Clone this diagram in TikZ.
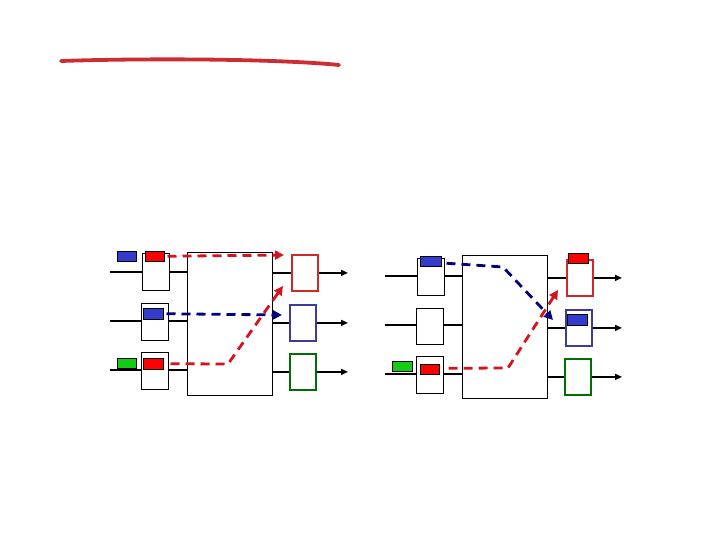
\documentclass[tikz,border=0pt]{standalone}
\usetikzlibrary{arrows.meta}
\definecolor{pkred}{RGB}{255,0,0}
\definecolor{pkblue}{RGB}{51,60,204}
\definecolor{pkgreen}{RGB}{20,204,20}
\definecolor{dred}{RGB}{210,20,30}
\definecolor{dblue}{RGB}{0,0,128}
\definecolor{ored}{RGB}{210,40,40}
\definecolor{oblue}{RGB}{60,60,160}
\definecolor{ogreen}{RGB}{0,110,0}
\definecolor{penred}{RGB}{205,45,50}
\tikzset{
  inbox/.style={draw=black, line width=0.7pt, fill=white, minimum width=27pt, minimum height=37pt, inner sep=0pt, anchor=north west},
  swbox/.style={draw=black, line width=0.8pt, fill=white, minimum width=85pt, minimum height=143pt, inner sep=0pt, anchor=north west},
  outbox/.style={line width=1.8pt, fill=white, minimum width=26pt, minimum height=36pt, inner sep=0pt, anchor=north west},
  pkt/.style={draw=black, line width=0.5pt, minimum width=20pt, minimum height=10pt, inner sep=0pt, anchor=north west},
  wire/.style={line width=1.5pt, black},
  outwire/.style={line width=1.5pt, black, -{Triangle[length=7pt,width=6pt]}},
  dashr/.style={line width=2.8pt, dred, dash pattern=on 9pt off 6pt, -{Triangle[length=9pt,width=9pt]}},
  dashb/.style={line width=2.8pt, dblue, dash pattern=on 9pt off 6pt, -{Triangle[length=9pt,width=9pt]}}
}
\begin{document}
\begin{tikzpicture}[x=1pt,y=-1pt]
\useasboundingbox (0,0) rectangle (720,540);
% top pen line
\draw[line width=3.8pt, penred, line cap=round] (61,61) .. controls (150,58) and (280,59) .. (339,65);

% ===== Left diagram =====
\node[swbox] (lsw) at (187,252) {};
\node[inbox] (li1) at (142,253) {};
\node[inbox] (li2) at (141,303) {};
\node[inbox] (li3) at (141,352) {};
\node[outbox, draw=ored] (lo1) at (291,254) {};
\node[outbox, draw=oblue] (lo2) at (289,304) {};
\node[outbox, draw=ogreen] (lo3) at (289,353) {};
\coordinate (la1) at (110,272);
\coordinate (la2) at (110,321);
\coordinate (la3) at (110,370);
\coordinate (lz1) at (348,272);
\coordinate (lz2) at (348,321);
\coordinate (lz3) at (348,371);
\draw[wire] (la1) -- (li1.west |- la1);
\draw[wire] (la2) -- (li2.west |- la2);
\draw[wire] (la3) -- (li3.west |- la3);
\draw[wire] (li1.east |- la1) -- (lsw.west |- la1);
\draw[wire] (li2.east |- la2) -- (lsw.west |- la2);
\draw[wire] (li3.east |- la3) -- (lsw.west |- la3);
\draw[wire] (lsw.east |- lo1.west) -- (lo1.west);
\draw[wire] (lsw.east |- lo2.west) -- (lo2.west);
\draw[wire] (lsw.east |- lo3.west) -- (lo3.west);
\draw[outwire] (lo1.east) -- (lo1.east -| lz1);
\draw[outwire] (lo2.east) -- (lo2.east -| lz2);
\draw[outwire] (lo3.east) -- (lo3.east -| lz3);
\node[pkt, fill=pkblue, minimum width=19pt] (lp0) at (117,251) {};
\node[pkt, fill=pkred, minimum width=19pt] (lp1) at (145,251) {};
\node[pkt, fill=pkblue, minimum height=11pt] (lp2) at (143,308) {};
\node[pkt, fill=pkgreen, minimum width=19pt] (lp3) at (117,358) {};
\node[pkt, fill=pkred, minimum height=11pt] (lp4) at (143,358) {};
\coordinate (lt1) at (284,255);
\coordinate (lt2) at (282,315);
\coordinate (lk3) at (228,364);
\coordinate (lt3) at (283,286);
\draw[dashr] (lp1.east) ++(3,0) -- (lt1);
\draw[dashb] (lp2.east) ++(3,0) -- (lt2);
\draw[dashr] (lp4.east) ++(7,0) -- (lk3) -- (lt3);

% ===== Right diagram =====
\node[swbox] (rsw) at (462,255) {};
\node[inbox] (ri1) at (417,258) {};
\node[inbox, minimum height=36pt] (ri2) at (416,308) {};
\node[inbox] (ri3) at (416,356) {};
\node[outbox, draw=ored] (ro1) at (566,259) {};
\node[outbox, draw=oblue] (ro2) at (565,309) {};
\node[outbox, draw=ogreen] (ro3) at (564,358) {};
\coordinate (ra1) at (385,276);
\coordinate (ra2) at (385,325);
\coordinate (ra3) at (385,374);
\coordinate (rz1) at (622,277);
\coordinate (rz2) at (622,325);
\coordinate (rz3) at (622,375);
\draw[wire] (ra1) -- (ri1.west |- ra1);
\draw[wire] (ra2) -- (ri2.west |- ra2);
\draw[wire] (ra3) -- (ri3.west |- ra3);
\draw[wire] (ri1.east |- ra1) -- (rsw.west |- ra1);
\draw[wire] (ri2.east |- ra2) -- (rsw.west |- ra2);
\draw[wire] (ri3.east |- ra3) -- (rsw.west |- ra3);
\draw[wire] (rsw.east |- ro1.west) -- (ro1.west);
\draw[wire] (rsw.east |- ro2.west) -- (ro2.west);
\draw[wire] (rsw.east |- ro3.west) -- (ro3.west);
\draw[outwire] (ro1.east) -- (ro1.east -| rz1);
\draw[outwire] (ro2.east) -- (ro2.east -| rz2);
\draw[outwire] (ro3.east) -- (ro3.east -| rz3);
\node[pkt, fill=pkblue, minimum width=21pt] (rp1) at (420,256) {};
\node[pkt, fill=pkgreen] (rp2) at (392,361) {};
\node[pkt, fill=pkred, minimum width=19pt] (rp3) at (420,364) {};
\node[pkt, fill=pkred] (rp4) at (568,253) {};
\node[pkt, fill=pkblue, minimum height=11pt] (rp5) at (567,314) {};
\coordinate (rk1) at (503,267);
\coordinate (rt1) at (553,320);
\coordinate (rk2) at (508,368);
\coordinate (rt2) at (558,290);
\draw[dashb] (rp1.east) ++(5,2) -- (rk1) -- (rt1);
\draw[dashr] (rp3.east) ++(9,-1) -- (rk2) -- (rt2);
\end{tikzpicture}
\end{document}
